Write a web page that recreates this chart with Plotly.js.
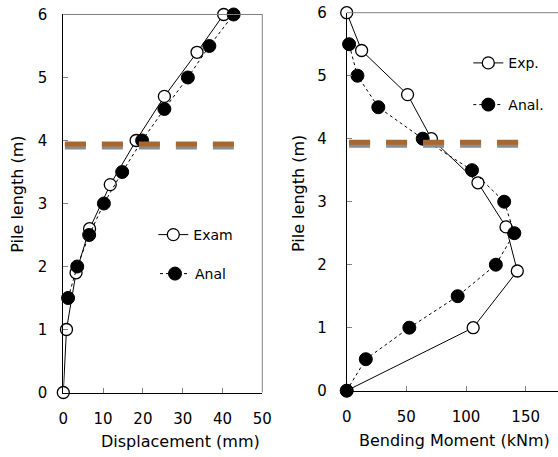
<!DOCTYPE html>
<html>
<head>
<meta charset="utf-8">
<script src="https://cdn.plot.ly/plotly-3.0.1.min.js"></script>
<style>html,body{margin:0;padding:0;background:#fff;}#chart{width:558px;height:457px;}</style>
</head>
<body>
<div id="chart"></div>
<script>
// Left panel: displacement (mm) vs pile length (m)
const examDispY = [0, 1, 1.9, 2.6, 3.3, 4.0, 4.7, 5.4, 6.0];
const examDisp  = [0, 0.8, 3.2, 6.6, 11.8, 18.3, 25.4, 33.6, 40.3];
const analDispY = [1.5, 2.0, 2.5, 3.0, 3.5, 4.0, 4.5, 5.0, 5.5, 6.0];
const analDisp  = [1.2, 3.5, 6.5, 10.2, 14.8, 19.8, 25.4, 31.3, 36.7, 42.8];

// Right panel: bending moment (kNm) vs pile length (m)
const expMomY  = [0, 1, 1.9, 2.6, 3.3, 4.0, 4.7, 5.4, 6.0];
const expMom   = [0, 106, 143, 133.5, 110, 71, 51, 12.5, 0];
const analMomY = [0, 0.5, 1, 1.5, 2, 2.5, 3, 3.5, 4, 4.5, 5, 5.5];
const analMom  = [0, 16, 52.5, 93, 125, 140.5, 132, 105, 63.7, 26.5, 9, 2];

// Reference level line (ground / water level)
const refLevel = 3.93;
const refLeftX = [0.4, 43.4];
const refRightX = [2, 145.3];

const dispTicks = [0, 10, 20, 30, 40, 50];
const momTicks = [0, 50, 100, 150];
const depthTicks = [0, 1, 2, 3, 4, 5, 6];

const FONT = 'DejaVu Sans, Verdana, sans-serif';

const openMarker = {symbol: 'circle', size: 12, color: '#ffffff', line: {color: '#000000', width: 1.3}};
const fillMarker = {symbol: 'circle', size: 13, color: '#000000', line: {color: '#000000', width: 1}};

function refTraces(xs, xa, ya) {
  return [
    {x: xs, y: [refLevel - 0.017, refLevel - 0.017], xaxis: xa, yaxis: ya, mode: 'lines', showlegend: false, hoverinfo: 'skip',
     line: {color: '#8c8c8c', width: 7, dash: '21px,16px'}},
    {x: xs, y: [refLevel + 0.014, refLevel + 0.014], xaxis: xa, yaxis: ya, mode: 'lines', showlegend: false, hoverinfo: 'skip',
     line: {color: '#a8672d', width: 5, dash: '21px,16px'}}
  ];
}

const data = [
  {x: examDisp, y: examDispY, xaxis: 'x', yaxis: 'y', mode: 'lines+markers', name: 'Exam', legend: 'legend', cliponaxis: false,
   line: {color: '#000000', width: 1}, marker: openMarker},
  {x: analDisp, y: analDispY, xaxis: 'x', yaxis: 'y', mode: 'lines+markers', name: 'Anal', legend: 'legend2', cliponaxis: false,
   line: {color: '#000000', width: 1, dash: '3px,3px'}, marker: fillMarker},
  {x: expMom, y: expMomY, xaxis: 'x2', yaxis: 'y2', mode: 'lines+markers', name: 'Exp.', legend: 'legend3', cliponaxis: false,
   line: {color: '#000000', width: 1}, marker: openMarker},
  {x: analMom, y: analMomY, xaxis: 'x2', yaxis: 'y2', mode: 'lines+markers', name: 'Anal.', legend: 'legend4', cliponaxis: false,
   line: {color: '#000000', width: 1, dash: '3px,3px'}, marker: fillMarker}
].concat(refTraces(refLeftX, 'x', 'y'), refTraces(refRightX, 'x2', 'y2'));

const axisCommon = {
  showgrid: false, zeroline: false, showline: true, linecolor: '#000000', linewidth: 1,
  ticks: 'inside', ticklen: 5, tickcolor: '#808080', tickwidth: 1,
  tickfont: {family: FONT, size: 15, color: '#000000'}, fixedrange: true
};

function legendAt(x, y) {
  return {x: x, y: y, xanchor: 'left', yanchor: 'middle', bgcolor: 'rgba(0,0,0,0)', borderwidth: 0,
          font: {family: FONT, size: 14, color: '#000000'}, itemwidth: 30, tracegroupgap: 0};
}

const layout = {
  width: 558, height: 457,
  margin: {l: 0, r: 0, t: 0, b: 0},
  paper_bgcolor: '#ffffff', plot_bgcolor: 'rgba(0,0,0,0)',
  xaxis: Object.assign({}, axisCommon, {domain: [63.3/558, 262.3/558], range: [0, 50], tickvals: dispTicks, anchor: 'y', ticklabelstandoff: 12}),
  yaxis: Object.assign({}, axisCommon, {domain: [0.1411, 0.9683], range: [0, 6], tickvals: depthTicks, anchor: 'x', ticklabelstandoff: 12}),
  xaxis2: Object.assign({}, axisCommon, {domain: [346.7/558, 1], range: [0, 177.1], tickvals: momTicks, anchor: 'y2', ticklabelstandoff: 12}),
  yaxis2: Object.assign({}, axisCommon, {domain: [0.1451, 0.9722], range: [0, 6], tickvals: depthTicks, anchor: 'x2', ticklabelstandoff: 16}),
  legend: legendAt(153.3/558, (457-235)/457),
  legend2: legendAt(155/558, (457-274)/457),
  legend3: legendAt(468.3/558, (457-63.3)/457),
  legend4: legendAt(468.3/558, (457-105)/457),
  shapes: [
    {type: 'line', xref: 'x domain', yref: 'y domain', x0: 0, x1: 1, y0: 1, y1: 1, line: {color: '#808080', width: 1}},
    {type: 'line', xref: 'x domain', yref: 'y domain', x0: 1, x1: 1, y0: 0, y1: 1, line: {color: '#808080', width: 1}},
    {type: 'line', xref: 'x2 domain', yref: 'y2 domain', x0: 0, x1: 1, y0: 1, y1: 1, line: {color: '#808080', width: 1}}
  ],
  annotations: [
    {text: 'Displacement (mm)', xref: 'paper', yref: 'paper', x: 180.8/558, y: (457-441)/457, xanchor: 'center', yanchor: 'middle', showarrow: false,
     font: {family: FONT, size: 16, color: '#000000'}},
    {text: 'Bending Moment (kNm)', xref: 'paper', yref: 'paper', x: 454/558, y: (457-440)/457, xanchor: 'center', yanchor: 'middle', showarrow: false,
     font: {family: FONT, size: 16, color: '#000000'}},
    {text: 'Pile length (m)', xref: 'paper', yref: 'paper', x: 16.7/558, y: (457-194)/457, xanchor: 'center', yanchor: 'middle', showarrow: false, textangle: -90,
     font: {family: FONT, size: 16, color: '#000000'}},
    {text: 'Pile length (m)', xref: 'paper', yref: 'paper', x: 298/558, y: (457-194)/457, xanchor: 'center', yanchor: 'middle', showarrow: false, textangle: -90,
     font: {family: FONT, size: 16, color: '#000000'}}
  ]
};

Plotly.newPlot('chart', data, layout, {displayModeBar: false, staticPlot: true});
</script>
</body>
</html>
